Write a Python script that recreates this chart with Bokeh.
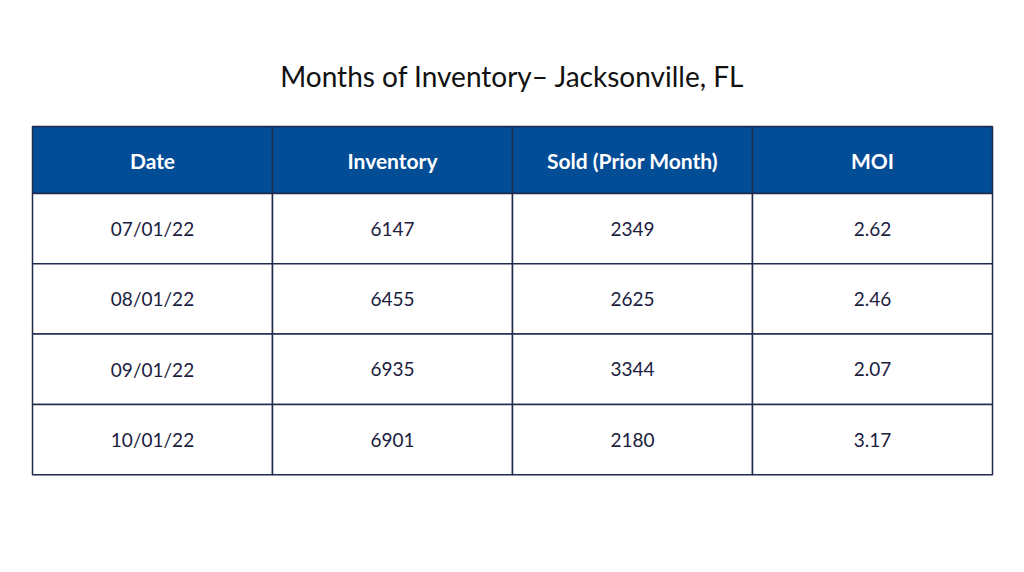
from bokeh.plotting import figure
from bokeh.models import ColumnDataSource, Range1d
from bokeh.core.properties import value
from bokeh.embed import file_html
from bokeh.resources import INLINE

title = "Months of Inventory– Jacksonville, FL"
headers = ["Date", "Inventory", "Sold (Prior Month)", "MOI"]
dates = ["07/01/22", "08/01/22", "09/01/22", "10/01/22"]
inventory = ["6147", "6455", "6935", "6901"]
sold = ["2349", "2625", "3344", "2180"]
moi = ["2.62", "2.46", "2.07", "3.17"]

W, H = 1008, 556
p = figure(width=W, height=H, output_backend="svg", toolbar_location=None,
           x_range=Range1d(0, W), y_range=Range1d(H, 0),
           min_border=0, outline_line_color=None)
p.axis.visible = False
p.grid.visible = False
p.background_fill_color = "white"
p.border_fill_color = "white"

# layout
x0, colw = 32, 240
hy0, hy1 = 126, 193
rowh = 70.3
ncol = len(headers)
nrow = len(dates)
border = "#1f2a4d"
text_col = "#1b2040"

# header cells
p.quad(left=[x0 + i * colw for i in range(ncol)], right=[x0 + (i + 1) * colw for i in range(ncol)],
       top=[hy0] * ncol, bottom=[hy1] * ncol, fill_color="#034c96", line_color=border, line_width=1.5)

# body cells
cols = [dates, inventory, sold, moi]
L, R, T, B, TX, XX, YY = [], [], [], [], [], [], []
for r in range(nrow):
    for c in range(ncol):
        L.append(x0 + c * colw); R.append(x0 + (c + 1) * colw)
        T.append(hy1 + r * rowh); B.append(hy1 + (r + 1) * rowh)
        TX.append(cols[c][r]); XX.append(x0 + c * colw + colw / 2); YY.append(hy1 + r * rowh + rowh / 2)
src = ColumnDataSource(dict(l=L, r=R, t=T, b=B, tx=TX, x=XX, y=YY))
p.quad(left="l", right="r", top="t", bottom="b", source=src, fill_color="white",
       line_color=border, line_width=1.5)
p.text(x="x", y="y", text="tx", source=src, text_font=value("Lato"), text_font_size="19px",
       text_color=text_col, text_align="center", text_baseline="middle")

p.text(x=[x0 + i * colw + colw / 2 for i in range(ncol)], y=[(hy0 + hy1) / 2] * ncol, text=headers,
       text_font=value("Lato"), text_font_size="21px", text_font_style="bold",
       text_color="white", text_align="center", text_baseline="middle")

p.text(x=[512], y=[75], text=[title], text_font=value("Lato"), text_font_size="28px",
       text_color="#111111", text_align="center", text_baseline="middle")

open("out.html", "w").write(file_html(p, INLINE))
